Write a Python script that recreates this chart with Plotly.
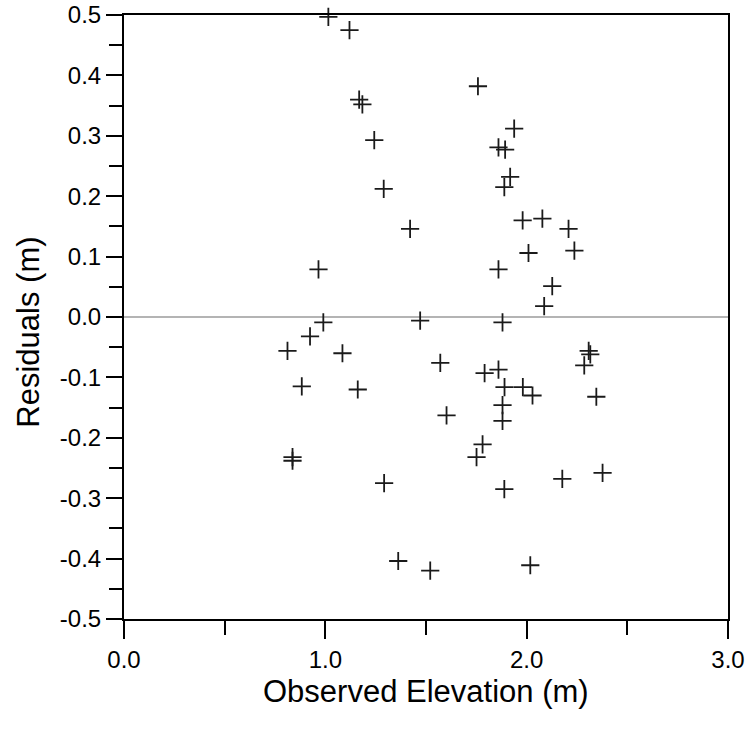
import plotly.graph_objects as go

# Observed elevation (m) and residuals (m)
elevation = [1.015, 1.120, 1.168, 1.184, 1.243, 1.290, 0.966, 0.990, 0.812, 0.924,
             1.085, 0.883, 1.161, 0.837, 0.837, 1.292, 1.362, 1.521, 1.421, 1.471,
             1.571, 1.602, 1.758, 1.938, 1.860, 1.893, 1.918, 1.889, 1.980, 2.078,
             2.208, 2.237, 2.009, 1.860, 2.127, 2.087, 1.880, 2.308, 2.316, 2.286,
             1.791, 1.860, 1.890, 1.981, 2.029, 2.346, 1.880, 1.880, 1.781, 1.751,
             1.889, 2.177, 2.377, 2.018]
residuals = [0.497, 0.475, 0.360, 0.352, 0.293, 0.212, 0.079, -0.009, -0.056, -0.032,
             -0.060, -0.115, -0.120, -0.232, -0.238, -0.275, -0.404, -0.420, 0.146, -0.006,
             -0.076, -0.163, 0.382, 0.312, 0.281, 0.277, 0.232, 0.215, 0.160, 0.163,
             0.146, 0.110, 0.106, 0.079, 0.051, 0.018, -0.009, -0.056, -0.062, -0.080,
             -0.093, -0.087, -0.116, -0.116, -0.130, -0.132, -0.146, -0.172, -0.211, -0.232,
             -0.285, -0.268, -0.258, -0.411]

x_tick_values = [0.0, 1.0, 2.0, 3.0]
x_tick_labels = ["0.0", "1.0", "2.0", "3.0"]
y_tick_values = [-0.5, -0.4, -0.3, -0.2, -0.1, 0.0, 0.1, 0.2, 0.3, 0.4, 0.5]
y_tick_labels = ["-0.5", "-0.4", "-0.3", "-0.2", "-0.1", "0.0", "0.1", "0.2", "0.3", "0.4", "0.5"]

x_title = "Observed Elevation (m)"
y_title = "Residuals (m)"

FONT = "Liberation Sans, Arial, Helvetica, sans-serif"

fig = go.Figure()
fig.add_trace(go.Scatter(
    x=elevation, y=residuals, mode="markers", cliponaxis=False,
    marker=dict(symbol="cross-thin", size=13,
                line=dict(width=1.8, color="#1a1a1a")),
    showlegend=False,
))

axis_common = dict(
    showgrid=False,
    showline=True, linecolor="black", linewidth=2, mirror=True,
    ticks="outside", tickcolor="black", tickwidth=2,
    tickfont=dict(family=FONT, size=24, color="black"),
)

fig.update_xaxes(
    range=[0, 3], tickmode="array", tickvals=x_tick_values, ticktext=x_tick_labels,
    ticklen=18, zeroline=False,
    minor=dict(dtick=0.5, tick0=0, ticks="outside", ticklen=14, tickwidth=2,
               tickcolor="black", showgrid=False),
    **axis_common,
)
fig.update_yaxes(
    range=[-0.5, 0.5], tickmode="array", tickvals=y_tick_values, ticktext=y_tick_labels,
    ticklen=16, zeroline=True, zerolinecolor="#b4b4b4", zerolinewidth=1.6,
    minor=dict(dtick=0.05, tick0=-0.5, ticks="outside", ticklen=13, tickwidth=2,
               tickcolor="black", showgrid=False),
    **axis_common,
)

fig.add_annotation(text=x_title, xref="paper", yref="paper", x=0.5, y=-0.12,
                   xanchor="center", yanchor="middle", showarrow=False,
                   font=dict(family=FONT, size=31, color="black"))
fig.add_annotation(text=y_title, xref="paper", yref="paper", x=-0.158, y=0.475,
                   xanchor="center", yanchor="middle", showarrow=False, textangle=-90,
                   font=dict(family=FONT, size=31, color="black"))

fig.update_layout(
    width=747, height=736,
    margin=dict(l=124, r=19, t=15, b=117, autoexpand=False),
    paper_bgcolor="white", plot_bgcolor="white",
    font=dict(family=FONT, color="black"),
)

fig.write_html("out.html")
